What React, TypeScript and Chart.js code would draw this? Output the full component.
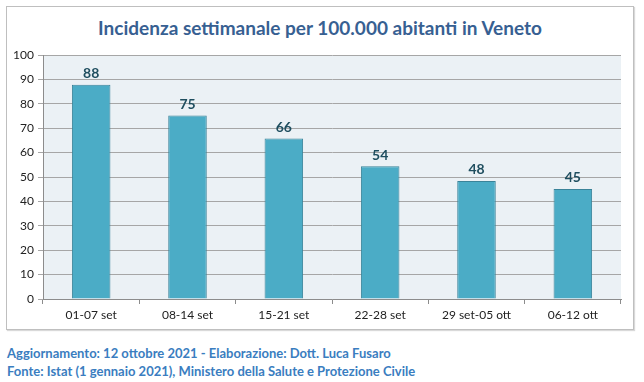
import React, { useEffect, useRef } from "react";
import { Chart, registerables } from "chart.js";

Chart.register(...registerables);

const categories = ["01-07 set", "08-14 set", "15-21 set", "22-28 set", "29 set-05 ott", "06-12 ott"];
const incidence = [87.8, 75.2, 65.8, 54.4, 48.4, 45.1];
const yTicks = [0, 10, 20, 30, 40, 50, 60, 70, 80, 90, 100];
const titleText = "Incidenza settimanale per 100.000 abitanti in Veneto";
const footerLines = [
  "Aggiornamento: 12 ottobre 2021 - Elaborazione: Dott. Luca Fusaro",
  "Fonte: Istat (1 gennaio 2021), Ministero della Salute e Protezione Civile",
];

const FONT = "Lato, 'Open Sans', sans-serif";

const bgPlugin = {
  id: "plotBg",
  beforeDraw(chart: any) {
    const { ctx, chartArea } = chart;
    ctx.save();
    ctx.fillStyle = "#EBF1F5";
    ctx.fillRect(chartArea.left, chartArea.top, chartArea.right - chartArea.left, chartArea.bottom - chartArea.top);
    ctx.restore();
  },
};

const labelPlugin = {
  id: "valueLabels",
  afterDatasetsDraw(chart: any) {
    const { ctx } = chart;
    const meta = chart.getDatasetMeta(0);
    ctx.save();
    ctx.font = `bold 14px ${FONT}`;
    ctx.fillStyle = "#1F4E5F";
    ctx.textAlign = "center";
    ctx.textBaseline = "bottom";
    meta.data.forEach((bar: any, i: number) => {
      const v = chart.data.datasets[0].data[i];
      ctx.fillText(String(Math.round(v)), bar.x, bar.y - 4);
    });
    ctx.restore();
  },
};

export default function App() {
  const ref = useRef<HTMLCanvasElement>(null);
  useEffect(() => {
    if (!ref.current) return;
    const chart = new Chart(ref.current, {
      type: "bar",
      data: {
        labels: categories,
        datasets: [
          {
            data: incidence,
            backgroundColor: "#4BACC6",
            borderColor: "#3A8399",
            borderWidth: 1,
            barPercentage: 0.4,
            categoryPercentage: 1,
          },
        ],
      },
      options: {
        animation: false,
        responsive: false,
        maintainAspectRatio: false,
        layout: { padding: { top: 48, right: 12, left: 0, bottom: 0 } },
        plugins: {
          legend: { display: false },
          tooltip: { enabled: false },
          title: { display: false },
        },
        scales: {
          x: {
            grid: {
              offset: true,
              drawOnChartArea: false,
              drawTicks: true,
              tickLength: 5,
              color: "#8C8C8C",
            },
            border: { color: "#8C8C8C" },
            ticks: { color: "#222", font: { family: FONT, size: 12 }, padding: 4, maxRotation: 0 },
            afterFit(scale: any) {
              scale.height = 30;
            },
          },
          y: {
            min: 0,
            max: 100,
            afterBuildTicks(scale: any) {
              scale.ticks = yTicks.map((v) => ({ value: v }));
            },
            grid: { color: "#A6A6A6", tickLength: 5, drawTicks: true },
            border: { color: "#8C8C8C" },
            ticks: { color: "#222", font: { family: FONT, size: 12 }, padding: 4 },
            afterFit(scale: any) {
              scale.width = 36;
            },
          },
        },
      },
      plugins: [bgPlugin, labelPlugin],
    });
    return () => chart.destroy();
  }, []);

  return (
    <div style={{ position: "fixed", left: 0, top: 0, width: 644, height: 382, background: "#fff" }}>
      <div
        style={{
          position: "absolute",
          left: 6,
          top: 6,
          width: 626,
          height: 322,
          border: "1px solid #BFBFBF",
          boxShadow: "1px 1px 1px #D9D9D9",
          background: "#fff",
        }}
      >
        <div
          style={{
            position: "absolute",
            left: 0,
            top: 9,
            width: 626,
            textAlign: "center",
            fontFamily: FONT,
            fontWeight: "bold",
            fontSize: 19,
            color: "#376092",
            whiteSpace: "nowrap",
          }}
        >
          {titleText}
        </div>
        <canvas ref={ref} width={626} height={322} style={{ position: "absolute", left: 0, top: 0 }} />
      </div>
      {footerLines.map((t, i) => (
        <div
          key={i}
          style={{
            position: "absolute",
            left: 7,
            top: 345 + i * 18,
            fontFamily: FONT,
            fontWeight: "bold",
            fontSize: 13,
            color: "#3A7DC0",
            whiteSpace: "nowrap",
            lineHeight: "16px",
          }}
        >
          {t}
        </div>
      ))}
    </div>
  );
}
